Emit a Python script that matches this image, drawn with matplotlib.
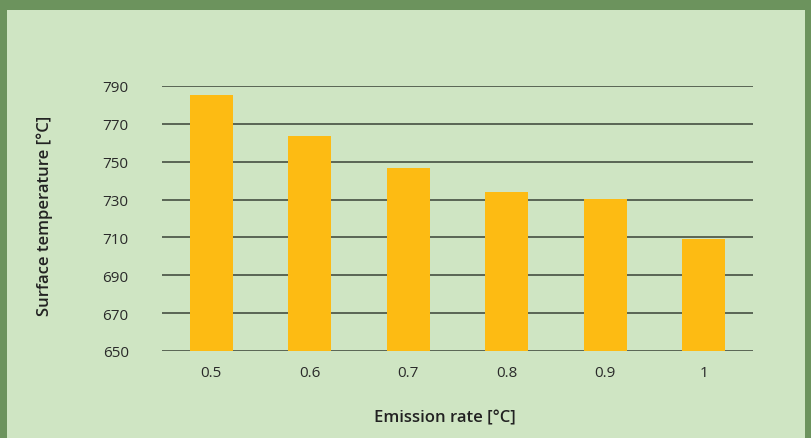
import matplotlib.pyplot as plt
from matplotlib.patches import Rectangle

categories = ['0.5', '0.6', '0.7', '0.8', '0.9', '1']
temps = [785, 763.5, 746.5, 734, 730.5, 709]
yticks = [650, 670, 690, 710, 730, 750, 770, 790]

plt.rcParams['font.family'] = ['Open Sans', 'DejaVu Sans']

W, H = 811, 439
fig = plt.figure(figsize=(W / 100, H / 100), dpi=100)
fig.patch.set_facecolor('#6c935d')

# background: light green panel inside the dark green frame
bg = fig.add_axes([0, 0, 1, 1], zorder=0)
bg.set_xlim(0, W)
bg.set_ylim(H, 0)
bg.axis('off')
bg.add_patch(Rectangle((7, 11), 805 - 7, H - 11, facecolor='#cfe5c3', edgecolor='none'))

ax = fig.add_axes([162 / W, 1 - 352 / H, (753 - 162) / W, (352 - 87) / H], zorder=1)
ax.set_facecolor('none')

ax.bar(range(len(categories)), [t - 650 for t in temps], bottom=650,
       width=0.44, color='#fdbb13', zorder=3)

ax.set_xlim(-0.5, len(categories) - 0.5)
ax.set_ylim(650, 790)
ax.set_yticks(yticks)
ax.set_xticks(range(len(categories)))
ax.set_xticklabels(categories)
ax.grid(axis='y', color='#3a4237', linewidth=1.1, zorder=1)
for s in ax.spines.values():
    s.set_visible(False)
ax.tick_params(length=0, labelsize=11, colors='#2a2a2a')
ax.tick_params(axis='y', pad=24)
ax.tick_params(axis='x', pad=10)

fig.text(445 / W, 1 - 418 / H, 'Emission rate [°C]', ha='center', va='center',
         fontsize=12, color='#222222', fontweight='semibold')
fig.text(45 / W, 1 - 216 / H, 'Surface temperature [°C]', ha='center', va='center',
         rotation=90, fontsize=12, color='#222222', fontweight='semibold')

fig.savefig('out.png', dpi=100, facecolor=fig.get_facecolor())
